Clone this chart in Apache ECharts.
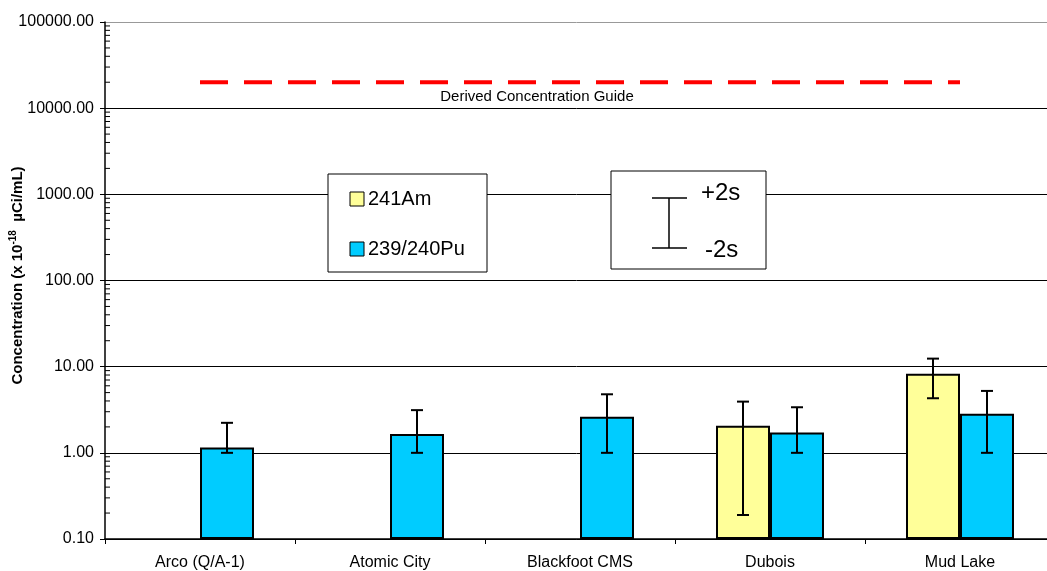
<!DOCTYPE html>
<html><head><meta charset="utf-8">
<script src="https://cdn.jsdelivr.net/npm/echarts@6/dist/echarts.min.js"></script>
<style>html,body{margin:0;padding:0;background:#fff}#c{width:1047px;height:571px}</style>
</head><body><div id="c"></div>
<script>
const categories = ['Arco (Q/A-1)', 'Atomic City', 'Blackfoot CMS', 'Dubois', 'Mud Lake'];
const am241 = [null, null, null, 2.06, 8.3];
const am241Low = [null, null, null, 0.19, 4.3];
const am241High = [null, null, null, 3.93, 12.4];
const pu239 = [1.15, 1.65, 2.63, 1.72, 2.85];
const pu239Low = [1.0, 1.0, 1.0, 1.0, 1.0];
const pu239High = [2.23, 3.13, 4.78, 3.38, 5.23];
const dcg = [20000, 20000, 20000, 20000, 20000];
const yTicks = [0.1, 1, 10, 100, 1000, 10000, 100000];
const minorMultipliers = [2, 3, 4, 5, 6, 7, 8, 9];

const FONT = 'Liberation Sans, Arial, sans-serif';
const BAR_W = 54;

const minorTickValues = [];
yTicks.slice(0, -1).forEach(d => minorMultipliers.forEach(m => minorTickValues.push([0, d * m])));

function errData(low, high) {
  const out = [];
  low.forEach((l, i) => { if (l != null) out.push([i, l, high[i]]); });
  return out;
}
function errRender(offset) {
  return function (params, api) {
    const i = api.value(0);
    const lo = api.coord([i, api.value(1)]);
    const hi = api.coord([i, api.value(2)]);
    const x = lo[0] + offset;
    const cap = 6;
    const st = { stroke: '#000', lineWidth: 2 };
    return { type: 'group', children: [
      { type: 'line', shape: { x1: x, y1: lo[1], x2: x, y2: hi[1] }, style: st },
      { type: 'line', shape: { x1: x - cap, y1: lo[1], x2: x + cap, y2: lo[1] }, style: st },
      { type: 'line', shape: { x1: x - cap, y1: hi[1], x2: x + cap, y2: hi[1] }, style: st }
    ]};
  };
}

const chart = echarts.init(document.getElementById('c'), null, { renderer: 'canvas' });
chart.setOption({
  animation: false,
  backgroundColor: '#fff',
  textStyle: { fontFamily: FONT, color: '#000' },
  grid: { left: 105, right: -8, top: 22, bottom: 32, containLabel: false, outerBoundsMode: 'none' },
  xAxis: {
    type: 'category',
    data: categories,
    axisLine: { onZero: false, lineStyle: { color: '#000', width: 1.5 } },
    axisTick: { show: true, length: 5, lineStyle: { color: '#000' } },
    axisLabel: { fontSize: 16, color: '#000', margin: 16, fontFamily: FONT },
    splitLine: { show: false }
  },
  yAxis: {
    type: 'log',
    logBase: 10,
    min: 0.1,
    max: 100000,
    startValue: 0.1,
    name: '{a|Concentration (x 10}{s|-18}{a|  µCi/mL)}',
    nameLocation: 'middle',
    nameGap: 78,
    nameMoveOverlap: false,
    nameTextStyle: {
      padding: [0, 0, 0, 10],
      rich: {
        a: { fontSize: 15, fontWeight: 'bold', fontFamily: FONT, color: '#000', lineHeight: 19 },
        s: { fontSize: 10, fontWeight: 'bold', fontFamily: FONT, color: '#000', verticalAlign: 'top', lineHeight: 19 }
      }
    },
    axisLine: { show: true, lineStyle: { color: '#000', width: 1.5 } },
    axisTick: { show: true, length: 5, lineStyle: { color: '#000' } },
    axisLabel: { fontSize: 16, color: '#000', margin: 11, fontFamily: FONT,
      formatter: v => Number(v).toFixed(2) },
    splitLine: { show: true, lineStyle: { color: ['#000', '#000', '#000', '#000', '#000', '#000', '#999'], width: 1 } }
  },
  series: [
    {
      name: '241Am', type: 'bar', data: am241, barWidth: BAR_W, barGap: '0%',
      itemStyle: { color: '#FFFF99', borderColor: '#000', borderWidth: 2 }, z: 3
    },
    {
      name: '239/240Pu', type: 'bar', data: pu239, barWidth: BAR_W, barGap: '0%',
      itemStyle: { color: '#00CCFF', borderColor: '#000', borderWidth: 2 }, z: 3
    },
    {
      name: '241Am ±2s', type: 'custom', data: errData(am241Low, am241High),
      encode: { x: 0, y: [1, 2] }, renderItem: errRender(-BAR_W / 2), z: 5, silent: true
    },
    {
      name: '239/240Pu ±2s', type: 'custom', data: errData(pu239Low, pu239High),
      encode: { x: 0, y: [1, 2] }, renderItem: errRender(BAR_W / 2), z: 5, silent: true
    },
    {
      name: 'Derived Concentration Guide', type: 'line', data: dcg, symbol: 'none',
      lineStyle: { color: '#FF0000', width: 4, type: [28, 16] }, z: 4, silent: true
    },
    {
      name: 'minor ticks', type: 'custom', data: minorTickValues,
      encode: { x: 0, y: 1 }, silent: true, z: 6, clip: false,
      renderItem: function (params, api) {
        const p = api.coord([0, api.value(1)]);
        const x0 = params.coordSys.x;
        return { type: 'line', shape: { x1: x0, y1: p[1], x2: x0 + 5, y2: p[1] },
          style: { stroke: '#000', lineWidth: 1 } };
      }
    }
  ],
  graphic: [
    { type: 'text', z: 100, x: 537, y: 97,
      style: { text: 'Derived Concentration Guide', font: '15px ' + FONT, fill: '#000', align: 'center', verticalAlign: 'middle' } },
    { type: 'rect', z: 100, shape: { x: 328, y: 174, width: 159, height: 98 },
      style: { fill: '#fff', stroke: '#000', lineWidth: 1 } },
    { type: 'rect', z: 101, shape: { x: 350, y: 192, width: 14, height: 14 },
      style: { fill: '#FFFF99', stroke: '#000', lineWidth: 1 } },
    { type: 'text', z: 101, x: 368, y: 199,
      style: { text: '241Am', font: '20px ' + FONT, fill: '#000', verticalAlign: 'middle' } },
    { type: 'rect', z: 101, shape: { x: 350, y: 242, width: 14, height: 14 },
      style: { fill: '#00CCFF', stroke: '#000', lineWidth: 1 } },
    { type: 'text', z: 101, x: 368, y: 249,
      style: { text: '239/240Pu', font: '20px ' + FONT, fill: '#000', verticalAlign: 'middle' } },
    { type: 'rect', z: 100, shape: { x: 611, y: 171, width: 155, height: 98 },
      style: { fill: '#fff', stroke: '#000', lineWidth: 1 } },
    { type: 'line', z: 101, shape: { x1: 669, y1: 198, x2: 669, y2: 248 }, style: { stroke: '#000', lineWidth: 1.5 } },
    { type: 'line', z: 101, shape: { x1: 652, y1: 198, x2: 687, y2: 198 }, style: { stroke: '#000', lineWidth: 1.5 } },
    { type: 'line', z: 101, shape: { x1: 652, y1: 248, x2: 687, y2: 248 }, style: { stroke: '#000', lineWidth: 1.5 } },
    { type: 'text', z: 101, x: 701, y: 193,
      style: { text: '+2s', font: '24px ' + FONT, fill: '#000', verticalAlign: 'middle' } },
    { type: 'text', z: 101, x: 705, y: 250,
      style: { text: '-2s', font: '24px ' + FONT, fill: '#000', verticalAlign: 'middle' } }
  ]
});
</script></body></html>
